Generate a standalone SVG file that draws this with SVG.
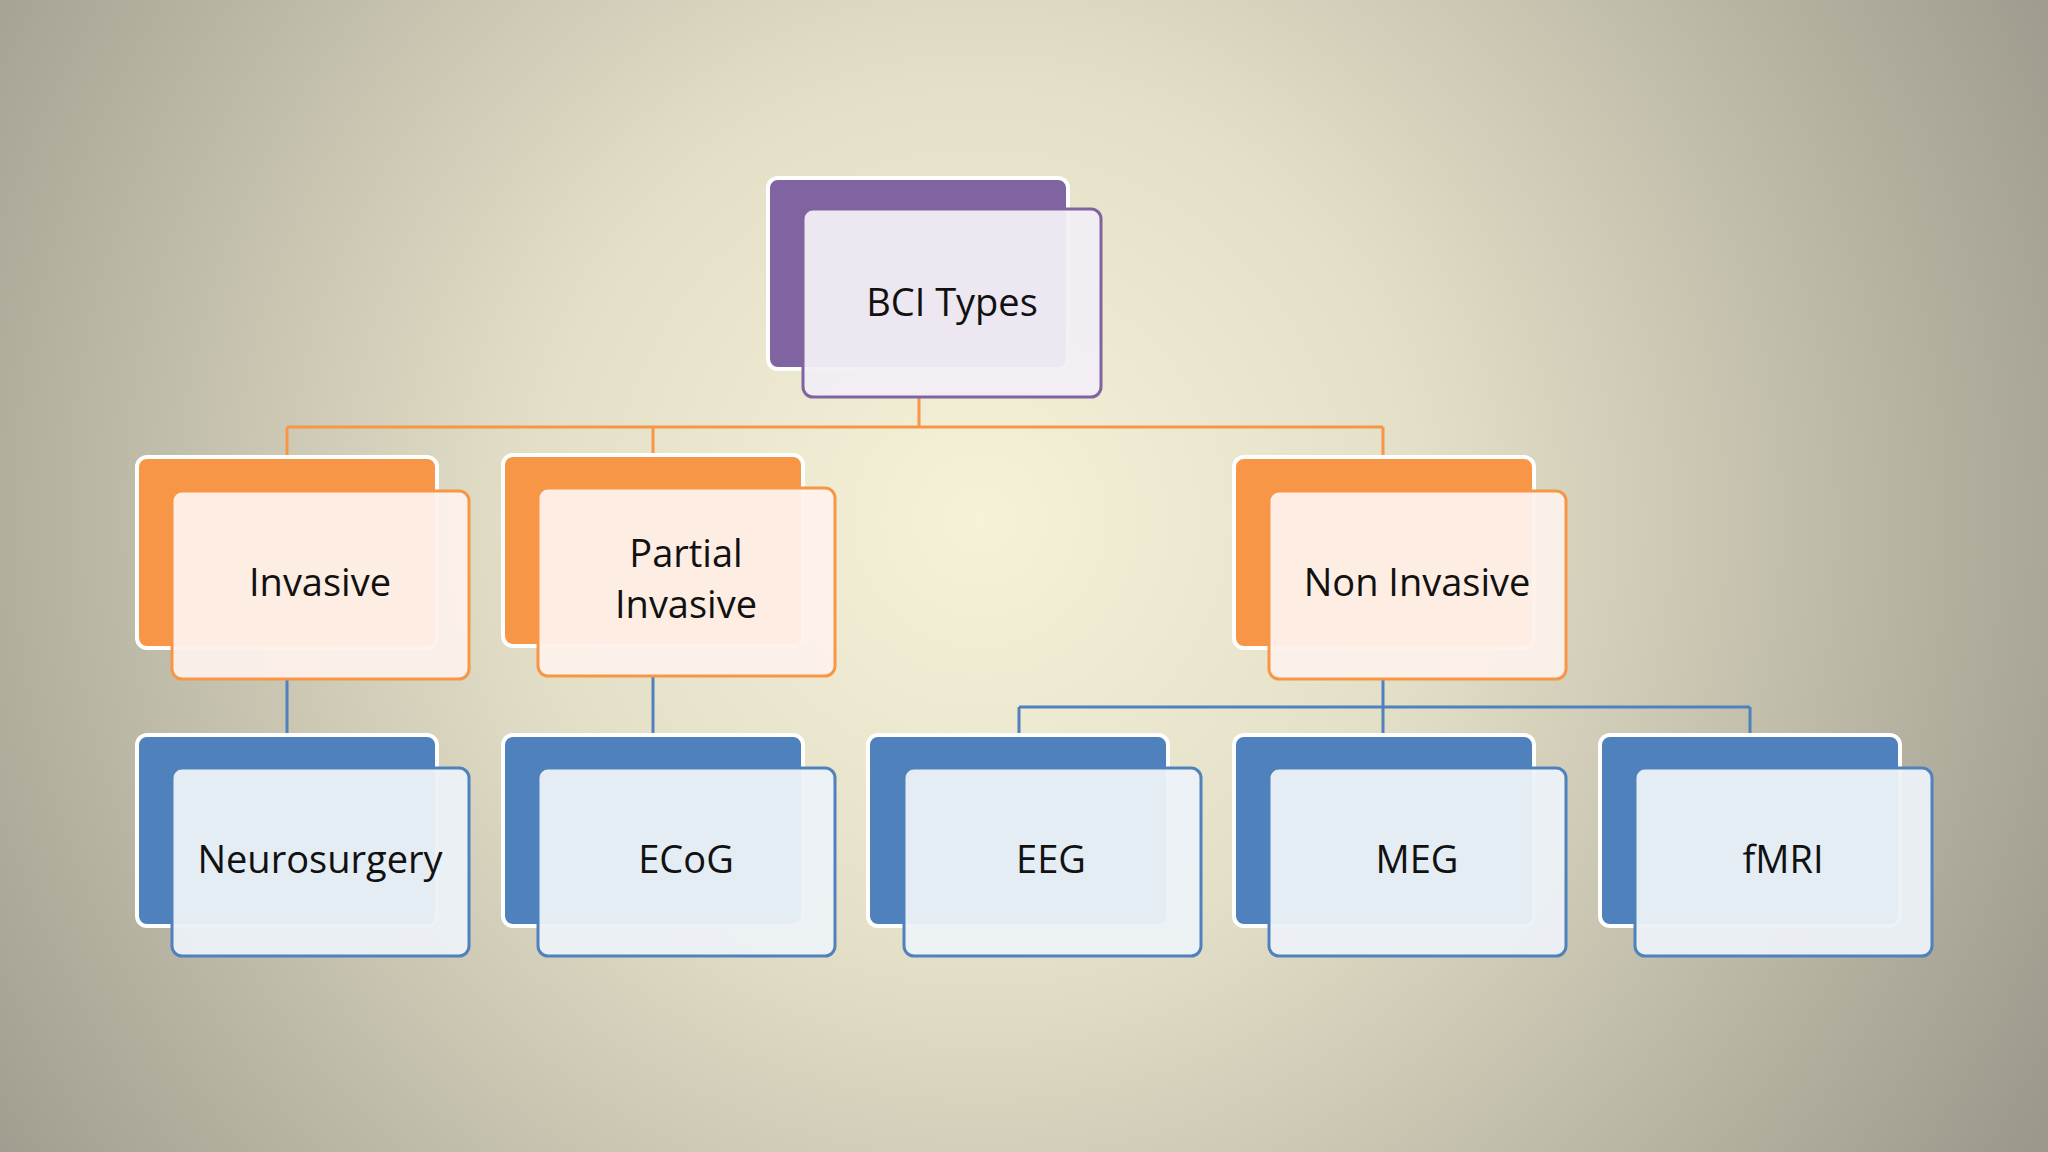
<svg xmlns="http://www.w3.org/2000/svg" width="2048" height="1152" viewBox="0 0 2048 1152">
<defs>
<radialGradient id="bg" cx="980" cy="520" r="1250" gradientUnits="userSpaceOnUse">
<stop offset="0" stop-color="#F6F2D8"/><stop offset="0.35" stop-color="#E4E0C8"/><stop offset="1" stop-color="#99968A"/>
</radialGradient>
<style>
.back{stroke:#fff;stroke-width:4}
.p{fill:#8064A2}.o{fill:#F79646}.b{fill:#4F81BD}
.fp{fill:#F1EEF4;stroke:#8064A2;stroke-width:3;fill-opacity:0.95}
.fo{fill:#FDF1EB;stroke:#F79646;stroke-width:3;fill-opacity:0.95}
.fb{fill:#ECF1F7;stroke:#4F81BD;stroke-width:3;fill-opacity:0.95}
.in{fill:none;stroke:#fff;stroke-width:4;opacity:0.8}
text{font-family:"Open Sans","Noto Sans",sans-serif;font-size:38px;fill:#111;text-anchor:middle}
.co{stroke:#F79646;stroke-width:3;fill:none}
.cb{stroke:#4F81BD;stroke-width:3;fill:none}
</style>
</defs>
<rect width="2048" height="1152" fill="url(#bg)"/>
<g id="connectors">
<path class="co" d="M919 397V427M287 427H1383M287 427V457M653 427V457M1383 427V457"/>
<path class="cb" d="M287 679V735M653 676V735M1383 679V707M1019 707H1750M1019 707V735M1383 707V735M1750 707V735"/>
</g>
<g id="bci"><rect class="back p" x="768" y="178" width="300" height="191" rx="10"/><rect class="fp" x="803" y="209" width="298" height="188" rx="10"/><text x="952" y="316">BCI Types</text></g>
<g id="invasive"><rect class="back o" x="137" y="457" width="300" height="191" rx="10"/><rect class="fo" x="172" y="491" width="297" height="188" rx="10"/><text x="320" y="596">Invasive</text></g>
<g id="partial"><rect class="back o" x="503" y="455" width="300" height="191" rx="10"/><rect class="fo" x="538" y="488" width="297" height="188" rx="10"/><text x="686" y="567">Partial</text><text x="686" y="618">Invasive</text></g>
<g id="noninvasive"><rect class="back o" x="1234" y="457" width="300" height="191" rx="10"/><rect class="fo" x="1269" y="491" width="297" height="188" rx="10"/><text x="1417" y="596">Non Invasive</text></g>
<g id="neuro"><rect class="back b" x="137" y="735" width="300" height="191" rx="10"/><rect class="fb" x="172" y="768" width="297" height="188" rx="10"/><text x="320" y="873">Neurosurgery</text></g>
<g id="ecog"><rect class="back b" x="503" y="735" width="300" height="191" rx="10"/><rect class="fb" x="538" y="768" width="297" height="188" rx="10"/><text x="686" y="873">ECoG</text></g>
<g id="eeg"><rect class="back b" x="868" y="735" width="300" height="191" rx="10"/><rect class="fb" x="904" y="768" width="297" height="188" rx="10"/><text x="1051" y="873">EEG</text></g>
<g id="meg"><rect class="back b" x="1234" y="735" width="300" height="191" rx="10"/><rect class="fb" x="1269" y="768" width="297" height="188" rx="10"/><text x="1417" y="873">MEG</text></g>
<g id="fmri"><rect class="back b" x="1600" y="735" width="300" height="191" rx="10"/><rect class="fb" x="1635" y="768" width="297" height="188" rx="10"/><text x="1783" y="873">fMRI</text></g>
</svg>
